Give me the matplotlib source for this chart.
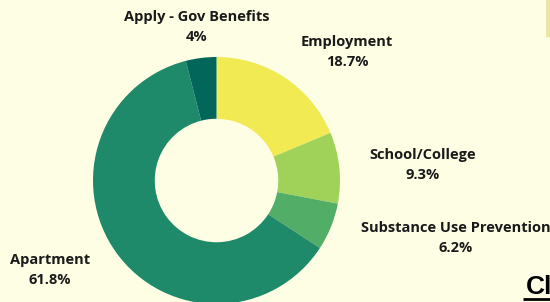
import matplotlib
matplotlib.use("Agg")
from matplotlib import pyplot as plt
from matplotlib.patches import Rectangle

# data
categories = ["Employment", "School/College", "Substance Use Prevention", "Apartment", "Apply - Gov Benefits"]
shares = [18.7, 9.3, 6.2, 61.8, 4.0]
pct_labels = ["18.7%", "9.3%", "6.2%", "61.8%", "4%"]
colors = ["#F2EA52", "#A0D25A", "#52AE67", "#1F8A6A", "#02665B"]

# label centres in pixels (x, y from top) - layout only
label_pos = [(347, 42), (423, 155), (456, 228), (50, 260), (197, 17)]

W, H = 550, 302
bg = "#FEFEE5"

fig = plt.figure(figsize=(W / 100, H / 100), dpi=100, facecolor=bg)
ax = fig.add_axes([0, 0, 1, 1])
ax.set_facecolor(bg)

cx, cy, R = 216.5, H - 180.5, 123.5
ax.pie(shares, colors=colors, startangle=90, counterclock=False,
       center=(cx, cy), radius=R, frame=True,
       wedgeprops=dict(width=R * 0.5, linewidth=0))
ax.set_xlim(0, W)
ax.set_ylim(0, H)
ax.set_aspect("equal")
ax.axis("off")

font = ["Open Sans", "DejaVu Sans"]
for name, pct, (x, y) in zip(categories, pct_labels, label_pos):
    ax.text(x, H - y, name, ha="center", va="center", fontsize=10.5,
            fontweight="bold", family=font, color="#1a1a1a")
    ax.text(x, H - y - 20, pct, ha="center", va="center", fontsize=10.5,
            fontweight="bold", family=font, color="#1a1a1a")

# bits of neighbouring page elements at the right edge
ax.add_patch(Rectangle((546, H - 37), 6, 37, color="#EBE6A0", lw=0))
ax.text(526, H - 294, "Cl", ha="left", va="baseline", fontsize=19,
        fontweight="bold", family=["Liberation Sans", "DejaVu Sans"], color="black")
ax.plot([523, 552], [H - 299, H - 299], color="black", lw=2, solid_capstyle="butt")

fig.savefig("out.png", dpi=100, facecolor=bg)
